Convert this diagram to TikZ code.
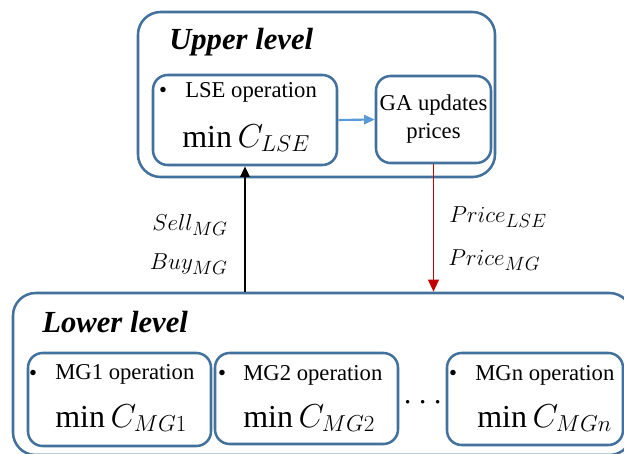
\documentclass[tikz,border=0pt]{standalone}
\usepackage{fontspec}
\setmainfont{LiberationSerif}[Extension=.ttf,UprightFont=*-Regular,BoldFont=*-Bold,ItalicFont=*-Italic,BoldItalicFont=*-BoldItalic]
\usetikzlibrary{arrows.meta}
\definecolor{bordc}{HTML}{41719C}
\definecolor{lblue}{HTML}{5B9BD5}
\definecolor{dred}{HTML}{C00000}
\begin{document}
\begin{tikzpicture}[x=0.75pt,y=-0.75pt,
  outerbox/.style={draw=bordc,line width=1.9pt,rounded corners=17pt,inner sep=0pt},
  innerbox/.style={draw=bordc,line width=1.9pt,rounded corners=11pt,inner sep=0pt},
  leveltitle/.style={font=\fontsize{23}{27}\selectfont\bfseries\itshape,inner sep=0pt},
  optext/.style={font=\fontsize{17}{20}\selectfont,inner sep=0pt},
  mintext/.style={font=\fontsize{24}{28}\selectfont,inner sep=0pt},
  flowlbl/.style={font=\fontsize{19}{23}\selectfont,inner sep=0pt},
  arrowtip/.style={-{Triangle[length=8pt,width=7pt]}},
  bigtip/.style={-{Triangle[length=9pt,width=8pt]}}
]
\useasboundingbox (0,0) rectangle (624,453);

% boxes
\node[outerbox,minimum width=267.75pt,minimum height=123.75pt] (upper) at (316.5,94.5) {};
\node[innerbox,minimum width=138pt,minimum height=67.5pt] (lse) at (245,120) {};
\node[innerbox,minimum width=86.25pt,minimum height=65.25pt,align=center,
      font=\fontsize{17}{21}\selectfont] (ga) at (433.5,119.5) {GA updates\\prices};
\node[outerbox,minimum width=464.25pt,minimum height=121.5pt] (lower) at (322.5,374) {};
\node[innerbox,minimum width=137.25pt,minimum height=69.75pt] (mg1) at (119.5,399.5) {};
\node[innerbox,minimum width=137.25pt,minimum height=68.25pt] (mg2) at (306.5,398.5) {};
\node[innerbox,minimum width=132pt,minimum height=69pt] (mgn) at (535,399) {};

% upper level texts
\node[leveltitle,anchor=base west] (uptitle) at (169,50) {Upper level};
\node[optext,anchor=base] (lsebul) at (163,98) {•};
\node[optext,anchor=base west] (lseop) at (185,98) {LSE operation};
\node[mintext,anchor=base west] (lsemin) at (182,147) {$\min C_{LSE}$};

% lower level texts
\node[leveltitle,anchor=base west] (lowtitle) at (42,332) {Lower level};
\node[optext,anchor=base] (mg1bul) at (33,380) {•};
\node[optext,anchor=base west] (mg1op) at (55,379) {MG1 operation};
\node[mintext,anchor=base west] (mg1min) at (55,427) {$\min C_{MG1}$};
\node[optext,anchor=base] (mg2bul) at (222,380) {•};
\node[optext,anchor=base west] (mg2op) at (243,380) {MG2 operation};
\node[mintext,anchor=base west] (mg2min) at (243,427) {$\min C_{MG2}$};
\node[optext,anchor=base] (mgnbul) at (453,380) {•};
\node[optext,anchor=base west] (mgnop) at (475,380) {MGn operation};
\node[mintext,anchor=base west] (mgnmin) at (477,427) {$\min C_{MGn}$};
\node[font=\fontsize{27}{30}\selectfont,inner sep=0pt,anchor=base] (dots) at (423,410) {$\cdots$};

% flow labels
\node[flowlbl,anchor=base east] (sell) at (228,230) {$Sell_{MG}$};
\node[flowlbl,anchor=base east] (buy) at (228,269) {$Buy_{MG}$};
\node[flowlbl,anchor=base west] (plse) at (449,222) {$Price_{LSE}$};
\node[flowlbl,anchor=base west] (pmg) at (448,265) {$Price_{MG}$};

% connectors
\draw[line width=1.7pt,arrowtip] (lse.south |- lower.north) -- (lse.south);
\draw[dred,line width=1.4pt,bigtip] (ga.south) -- (ga.south |- lower.north);
\draw[lblue,line width=1.6pt,arrowtip] (lse.east) -- (ga.west);
\end{tikzpicture}
\end{document}
